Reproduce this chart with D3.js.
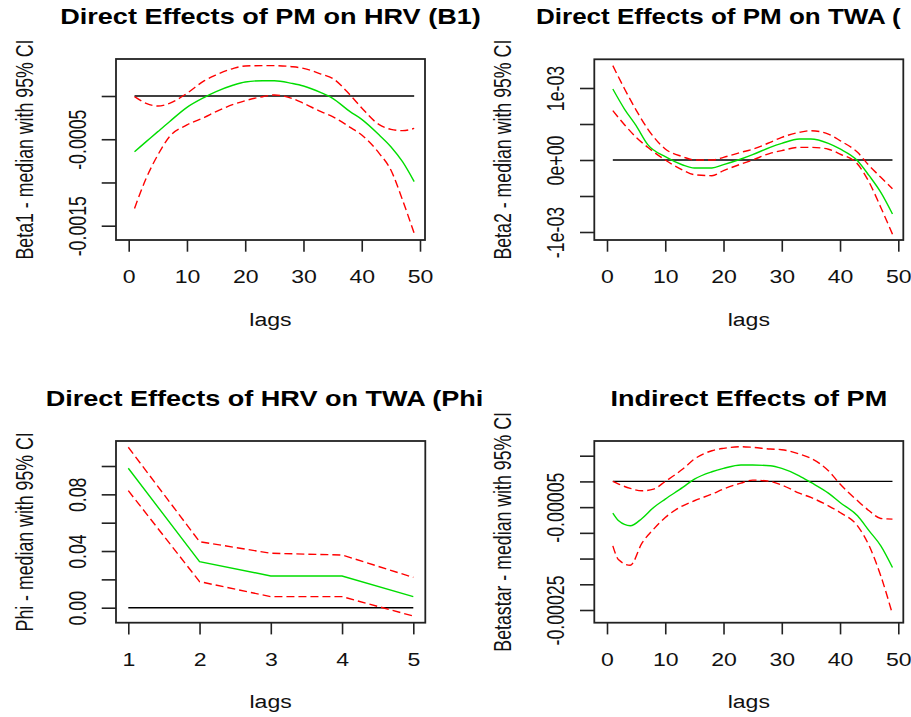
<!DOCTYPE html>
<html><head><meta charset="utf-8">
<script src="https://cdn.jsdelivr.net/npm/d3@7"></script>
<style>body{margin:0;background:#fff}svg{display:block}</style>
</head><body>
<script>
// ---------- DATA ----------
const lagsA = [1,3,5,7,10,13,15,18,20,23,25,28,30,33,35,38,40,43,45,47,49];
const lagsPhi = [1,2,3,4,5];
const lagsD = [1,2,4,6,8,10,13,15,18,20,23,25,28,30,33,35,38,40,43,45,47,49];

const beta1Median = [-0.000644,-0.000528,-0.000412,-0.000297,-0.000131,-0.000015,0.00005,0.000127,0.000162,0.000177,0.000177,0.000146,0.000116,0.000039,-0.000027,-0.000181,-0.00027,-0.000451,-0.000586,-0.00076,-0.00099];
const beta1Upper = [-0.000008,-0.000085,-0.000116,-0.000085,0.000031,0.000177,0.000243,0.00032,0.000347,0.000351,0.000351,0.000339,0.00032,0.000254,0.000204,0.000012,-0.000139,-0.000332,-0.000386,-0.000401,-0.000374];
const beta1Lower = [-0.0013,-0.000952,-0.000682,-0.00047,-0.000335,-0.000247,-0.000181,-0.000096,-0.000054,-0.000008,0.000012,-0.000027,-0.000085,-0.000181,-0.000239,-0.000362,-0.000451,-0.000663,-0.000856,-0.001203,-0.001588];

const beta2Median = [0.000986,0.000708,0.000477,0.000213,0.000046,-0.000069,-0.000111,-0.000111,-0.000065,0.000014,0.000074,0.000176,0.000231,0.000292,0.000292,0.000231,0.000153,-0.000009,-0.000218,-0.00045,-0.00075];
const beta2Upper = [0.00131,0.00099,0.000694,0.00043,0.000153,0.000046,0,0,0.000037,0.000106,0.00015,0.000245,0.000315,0.000384,0.000407,0.00036,0.000269,0.000106,-0.000079,-0.00024,-0.0004];
const beta2Lower = [0.000685,0.00049,0.000315,0.000176,0,-0.000139,-0.000204,-0.000218,-0.000148,-0.000056,0,0.000093,0.00013,0.000176,0.000176,0.00015,0.000083,-0.000056,-0.00031,-0.00066,-0.00103];

const phiMedian = [0.0984,0.0325,0.0224,0.0224,0.0078];
const phiUpper = [0.1132,0.0466,0.0384,0.0372,0.0214];
const phiLower = [0.0826,0.0184,0.0078,0.0078,-0.0059];

const betastarMedian = [-0.0000617,-0.0000766,-0.0000863,-0.000072,-0.0000506,-0.0000344,-0.0000117,0.0000045,0.0000188,0.0000253,0.0000318,0.0000318,0.0000305,0.0000253,0.000011,-0.000002,-0.0000227,-0.0000409,-0.0000668,-0.0000961,-0.0001253,-0.0001674];
const betastarUpper = [0,-0.0000052,-0.0000136,-0.0000182,-0.0000149,0,0.000024,0.0000435,0.0000597,0.0000643,0.0000675,0.0000662,0.000063,0.0000617,0.0000532,0.0000448,0.0000208,-0.0000052,-0.0000376,-0.0000571,-0.000072,-0.0000733];
const betastarLower = [-0.0001253,-0.0001525,-0.000163,-0.00012,-0.0000928,-0.0000701,-0.0000474,-0.0000376,-0.0000247,-0.0000149,-0.0000032,0.0000026,0,-0.0000071,-0.0000227,-0.0000312,-0.0000474,-0.0000604,-0.0000863,-0.0001253,-0.0001837,-0.0002583];

const xTicksLag = [0,10,20,30,40,50];
const xTicksPhi = [1,2,3,4,5];
const yTicks1 = [0,-0.0005,-0.001,-0.0015];
const yLabels1 = ["","-0.0005","","-0.0015"];
const yTicks2 = [0.001,0.0005,0,-0.0005,-0.001];
const yLabels2 = ["1e-03","","0e+00","","-1e-03"];
const yTicks3 = [0,0.02,0.04,0.06,0.08,0.1];
const yLabels3 = ["0.00","","0.04","","0.08",""];
const yTicks4 = [0.00005,0,-0.00005,-0.0001,-0.00015,-0.0002,-0.00025];
const yLabels4 = ["","","-0.00005","","","","-0.00025"];

const titles = ["Direct Effects of PM on HRV (B1)","Direct Effects of PM on TWA (","Direct Effects of HRV on TWA (Phi","Indirect Effects of PM"];
const yTitles = ["Beta1 - median with 95% CI","Beta2 - median with 95% CI","Phi - median with 95% CI","Betastar - median with 95% CI"];
const xTitle = "lags";

// ---------- LAYOUT ----------
const W = 911, H = 717;
const FONT = "'Liberation Sans', Arial, Helvetica, sans-serif";
const SX = 1.3, FS = 17.75, TFS = 21.5;

const panels = [
  {lags:lagsA, med:beta1Median, up:beta1Upper, lo:beta1Lower, box:[116,59,425,240],
   xDom:[0,50], xRng:[128.7,420], yDom:[0,-0.0015], yRng:[96,225.7],
   xTicks:xTicksLag, yTicks:yTicks1, yLabels:yLabels1, curve:d3.curveMonotoneX,
   title:titles[0], tx:270.5, ty:24, tsx:1.26, anchor:"middle", yTitle:yTitles[0]},
  {lags:lagsA, med:beta2Median, up:beta2Upper, lo:beta2Lower, box:[594.3,59.3,903.3,240],
   xDom:[0,50], xRng:[607,898.3], yDom:[0.001,-0.001], yRng:[88,232],
   xTicks:xTicksLag, yTicks:yTicks2, yLabels:yLabels2, curve:d3.curveMonotoneX,
   title:titles[1], tx:536, ty:24, tsx:1.21, anchor:"start", yTitle:yTitles[1]},
  {lags:lagsPhi, med:phiMedian, up:phiUpper, lo:phiLower, box:[116,441,425.3,622.7],
   xDom:[1,5], xRng:[128.3,413.3], yDom:[0,0.1], yRng:[607.7,466],
   xTicks:xTicksPhi, yTicks:yTicks3, yLabels:yLabels3, curve:d3.curveLinear,
   title:titles[2], tx:45.7, ty:406, tsx:1.26, anchor:"start", yTitle:yTitles[2]},
  {lags:lagsD, med:betastarMedian, up:betastarUpper, lo:betastarLower, box:[594.3,441,903.3,622.7],
   xDom:[0,50], xRng:[607,898.3], yDom:[0.00005,-0.00025], yRng:[455.7,610],
   xTicks:xTicksLag, yTicks:yTicks4, yLabels:yLabels4, curve:d3.curveMonotoneX,
   title:titles[3], tx:748.8, ty:406, tsx:1.26, anchor:"middle", yTitle:yTitles[3]}
];

const svg = d3.select("body").append("svg").attr("width",W).attr("height",H)
  .style("font-family",FONT);

panels.forEach(p => {
  const x = d3.scaleLinear().domain(p.xDom).range(p.xRng);
  const y = d3.scaleLinear().domain(p.yDom).range(p.yRng);
  const [bx0,by0,bx1,by1] = p.box;
  const g = svg.append("g");
  const line = d3.line().x(d=>x(d[0])).y(d=>y(d[1])).curve(p.curve);

  // zero reference line
  g.append("line")
    .attr("x1",x(p.lags[0])).attr("x2",x(p.lags[p.lags.length-1]))
    .attr("y1",y(0)).attr("y2",y(0))
    .attr("stroke","#000").attr("stroke-width",1.4);

  g.append("path").datum(d3.zip(p.lags,p.med)).attr("d",line)
    .attr("fill","none").attr("stroke","#00dd00").attr("stroke-width",1.4);
  [p.up,p.lo].forEach(s => {
    g.append("path").datum(d3.zip(p.lags,s)).attr("d",line)
      .attr("fill","none").attr("stroke","#ff0000").attr("stroke-width",1.4)
      .attr("stroke-dasharray","8,4");
  });

  // box
  g.append("rect").attr("x",bx0).attr("y",by0).attr("width",bx1-bx0).attr("height",by1-by0)
    .attr("fill","none").attr("stroke","#222").attr("stroke-width",1.8);

  // y axis
  g.append("g").attr("transform",`translate(${bx0},0)`)
    .call(d3.axisLeft(y).tickValues(p.yTicks).tickSize(14.3).tickFormat((d,i)=>p.yLabels[i]))
    .call(a => {
      a.attr("font-family",null).attr("font-size",null);
      a.select(".domain").remove();
      a.selectAll(".tick line").attr("stroke","#222").attr("stroke-width",1.6);
      a.selectAll(".tick text").attr("x",0).attr("dy",null).attr("text-anchor","middle")
        .attr("transform",`translate(-30,0) scale(${SX},1) rotate(-90)`)
        .attr("font-size",FS).attr("font-family",FONT).attr("fill","#111");
    });

  // x axis
  g.append("g").attr("transform",`translate(0,${by1})`)
    .call(d3.axisBottom(x).tickValues(p.xTicks).tickSize(11.7).tickFormat(d3.format("d")))
    .call(a => {
      a.attr("font-family",null).attr("font-size",null);
      a.select(".domain").remove();
      a.selectAll(".tick line").attr("stroke","#222").attr("stroke-width",1.6);
      a.selectAll(".tick text").attr("y",0).attr("dy",null).attr("text-anchor","middle")
        .attr("transform",`translate(0,43.3) scale(${SX},1)`)
        .attr("font-size",FS).attr("font-family",FONT).attr("fill","#111");
    });

  // axis titles
  g.append("text").text(xTitle).attr("text-anchor","middle")
    .attr("transform",`translate(${(bx0+bx1)/2},${by1+85.5}) scale(${SX},1)`)
    .attr("font-size",FS).attr("fill","#111");
  g.append("text").text(p.yTitle).attr("text-anchor","middle")
    .attr("transform",`translate(${bx0-83.5},${(by0+by1)/2}) scale(${SX},1) rotate(-90)`)
    .attr("font-size",FS).attr("fill","#111");

  // main title
  g.append("text").text(p.title).attr("text-anchor",p.anchor)
    .attr("transform",`translate(${p.tx},${p.ty}) scale(${p.tsx},1)`)
    .attr("font-size",TFS).attr("font-weight","bold").attr("fill","#000");
});
</script>
</body></html>
